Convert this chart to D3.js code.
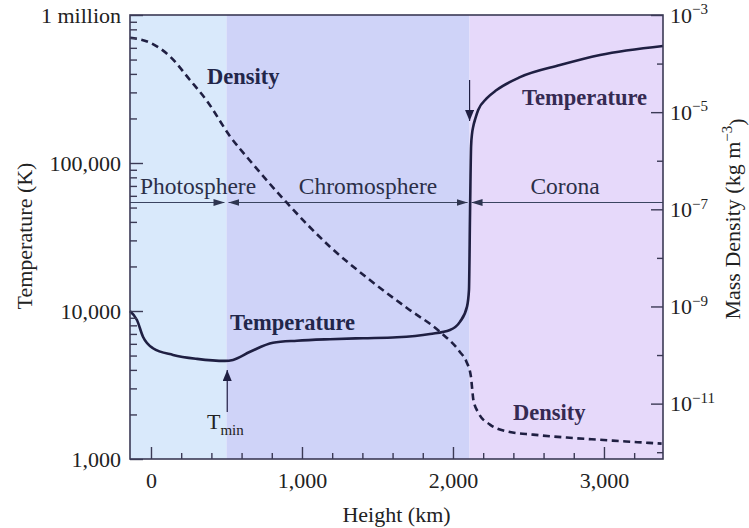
<!DOCTYPE html>
<html>
<head>
<meta charset="utf-8">
<script src="https://cdn.jsdelivr.net/npm/d3@7"></script>
<style>
  body { margin: 0; background: #fff; }
  svg text { font-family: "Liberation Serif", "Times New Roman", serif; }
</style>
</head>
<body>
<svg id="chart" width="749" height="528"></svg>
<script>
// temperature profile (height in km, T in K)
const tempHeight = [-140, -93, -53, 13, 146, 305, 490, 543, 656, 808, 967, 1185, 1404, 1629, 1848, 1980, 2046, 2093, 2106, 2113, 2120, 2127, 2134, 2149, 2167, 2223, 2289, 2444, 2709, 2974, 3391];
const tempValue  = [10000, 8700, 6700, 5600, 5050, 4750, 4600, 4670, 5300, 6100, 6300, 6450, 6550, 6650, 7000, 7450, 8450, 10700, 13900, 46000, 130000, 160000, 176000, 201000, 228000, 273000, 311000, 380000, 459000, 537000, 618000];

// mass density profile (height in km, rho in kg m^-3)
const densHeight = [-139, -7, 126, 258, 371, 523, 656, 901, 1185, 1450, 1693, 1914, 2046, 2090, 2119, 2128, 2135, 2168, 2245, 2377, 2530, 2753, 2974, 3382];
const densValue  = [3.4e-4, 2.7e-4, 1.4e-4, 4.6e-5, 1.7e-5, 3.2e-6, 1.0e-6, 1.35e-7, 1.7e-8, 3.5e-9, 9.4e-10, 3.0e-10, 1.16e-10, 7.2e-11, 3.6e-11, 1.9e-11, 1.2e-11, 6.5e-12, 3.7e-12, 2.6e-12, 2.3e-12, 2.0e-12, 1.8e-12, 1.5e-12];

// atmosphere layers
const layerNames = ["Photosphere", "Chromosphere", "Corona"];
const layerBounds = [500, 2110];

// axis ticks
const heightTicks = [0, 1000, 2000, 3000];
const tempTicks = [1000, 10000, 100000, 1000000];
const tempTickLabels = ["1,000", "10,000", "100,000", "1 million"];
const densTicks = [1e-3, 1e-5, 1e-7, 1e-9, 1e-11];
const densTickExp = ["−3", "−5", "−7", "−9", "−11"];

const pLeft = 130, pRight = 663, pTop = 15, pBottom = 459;
const ink = "#1f1f42";

const svg = d3.select("#chart");

const x = d3.scaleLinear().domain([-139, 3391]).range([pLeft, pRight]);
const yT = d3.scaleLog().domain([1000, 1e6]).range([pBottom, pTop]);
const yD = d3.scaleLog().domain([Math.pow(10, -12.14), 1e-3]).range([pBottom, pTop]);

// background layers
const layerEdges = [x.domain()[0], ...layerBounds, x.domain()[1]];
const layerColors = ["#d9e9fb", "#cfd3f8", "#e6d9fa"];
svg.append("g").selectAll("rect")
    .data(layerNames)
    .join("rect")
    .attr("x", (d, i) => x(layerEdges[i]))
    .attr("y", pTop)
    .attr("width", (d, i) => x(layerEdges[i + 1]) - x(layerEdges[i]))
    .attr("height", pBottom - pTop)
    .attr("fill", (d, i) => layerColors[i]);

// arrow markers
const defs = svg.append("defs");
function marker(id, color, len, half) {
    defs.append("marker")
        .attr("id", id)
        .attr("viewBox", `0 ${-half} ${len} ${2 * half}`)
        .attr("refX", len).attr("refY", 0)
        .attr("markerWidth", len).attr("markerHeight", 2 * half)
        .attr("markerUnits", "userSpaceOnUse")
        .attr("orient", "auto-start-reverse")
        .append("path")
        .attr("d", `M0,${-half}L${len},0L0,${half}Z`)
        .attr("fill", color);
}
marker("arr", "#2e3550", 11, 3.5);
marker("arrDark", "#1f1f42", 11, 4.5);

// layer spans with arrows
const spanY = 202.5;
const spanG = svg.append("g");
layerNames.forEach((name, i) => {
    const x0 = x(layerEdges[i]), x1 = x(layerEdges[i + 1]);
    const first = i === 0, last = i === layerNames.length - 1;
    spanG.append("line")
        .attr("x1", first ? x0 : x0 + 2)
        .attr("x2", last ? x1 : x1 - 2)
        .attr("y1", spanY).attr("y2", spanY)
        .attr("stroke", "#3a4460").attr("stroke-width", 1.2)
        .attr("marker-start", first ? null : "url(#arr)")
        .attr("marker-end", last ? null : "url(#arr)");
});
const labelX = [198, 368, 565];
spanG.selectAll("text")
    .data(layerNames)
    .join("text")
    .attr("x", (d, i) => labelX[i])
    .attr("y", 194)
    .attr("text-anchor", "middle")
    .attr("font-size", 23.5)
    .attr("fill", "#2b2f48")
    .text(d => d);

// curves
const lineT = d3.line()
    .x((d, i) => x(tempHeight[i]))
    .y(d => yT(d))
    .curve(d3.curveMonotoneX);
const lineD = d3.line()
    .x((d, i) => x(densHeight[i]))
    .y(d => yD(d))
    .curve(d3.curveMonotoneX);

svg.append("path")
    .attr("d", lineD(densValue))
    .attr("fill", "none")
    .attr("stroke", ink)
    .attr("stroke-width", 2.6)
    .attr("stroke-dasharray", "7,4.5");

svg.append("path")
    .attr("d", lineT(tempValue))
    .attr("fill", "none")
    .attr("stroke", ink)
    .attr("stroke-width", 2.6);

// bottom axis
const xMinor = d3.range(0, 3400, 200).filter(v => v % 1000 !== 0);
svg.append("g")
    .attr("transform", `translate(0,${pBottom})`)
    .call(d3.axisBottom(x).tickValues(xMinor).tickSize(-6).tickFormat(""))
    .call(g => g.select(".domain").remove())
    .call(g => g.selectAll(".tick line").attr("stroke", "#3b3a55").attr("stroke-width", 1.4));
svg.append("g")
    .attr("transform", `translate(0,${pBottom})`)
    .call(d3.axisBottom(x).tickValues(heightTicks).tickSize(-12).tickPadding(13)
        .tickFormat(d3.format(",")))
    .call(g => g.select(".domain").remove())
    .call(g => g.selectAll(".tick line").attr("stroke", "#3b3a55").attr("stroke-width", 1.4))
    .call(g => g.selectAll(".tick text")
        .attr("font-size", 22).attr("fill", "#222")
        .attr("font-family", "Liberation Serif"));

// left axis
const yMinor = [];
[1000, 10000, 100000].forEach(b => { for (let k = 2; k <= 9; k++) yMinor.push(b * k); });
svg.append("g")
    .attr("transform", `translate(${pLeft},0)`)
    .call(d3.axisLeft(yT).tickValues(yMinor).tickSize(-7).tickFormat(""))
    .call(g => g.select(".domain").remove())
    .call(g => g.selectAll(".tick line").attr("stroke", "#3b3a55").attr("stroke-width", 1.4));
svg.append("g")
    .attr("transform", `translate(${pLeft},0)`)
    .call(d3.axisLeft(yT).tickValues(tempTicks).tickSize(-13).tickPadding(9)
        .tickFormat((d, i) => tempTickLabels[i]))
    .call(g => g.select(".domain").remove())
    .call(g => g.selectAll(".tick line").attr("stroke", "#3b3a55").attr("stroke-width", 1.4))
    .call(g => g.selectAll(".tick text")
        .attr("font-size", 22).attr("fill", "#222")
        .attr("font-family", "Liberation Serif"));

// right axis
const dMinor = [1e-4, 1e-6, 1e-8, 1e-10, 1e-12];
svg.append("g")
    .attr("transform", `translate(${pRight},0)`)
    .call(d3.axisRight(yD).tickValues(dMinor).tickSize(-6).tickFormat(""))
    .call(g => g.select(".domain").remove())
    .call(g => g.selectAll(".tick line").attr("stroke", "#3b3a55").attr("stroke-width", 1.4));
const rightAxis = svg.append("g")
    .attr("transform", `translate(${pRight},0)`)
    .call(d3.axisRight(yD).tickValues(densTicks).tickSize(-12).tickFormat(""))
    .call(g => g.select(".domain").remove())
    .call(g => g.selectAll(".tick line").attr("stroke", "#3b3a55").attr("stroke-width", 1.4));
rightAxis.selectAll(".tick").each(function(d, i) {
    const t = d3.select(this).append("text")
        .attr("x", 7).attr("dy", "0.32em")
        .attr("fill", "#222").attr("font-size", 22)
        .attr("text-anchor", "start");
    t.append("tspan").text("10");
    t.append("tspan").attr("dy", "-0.55em").attr("font-size", 15).text(densTickExp[i]);
});

// frame
svg.append("rect")
    .attr("x", pLeft).attr("y", pTop)
    .attr("width", pRight - pLeft).attr("height", pBottom - pTop)
    .attr("fill", "none").attr("stroke", "#3b3a55").attr("stroke-width", 1.6);

// axis titles
svg.append("text")
    .attr("x", (pLeft + pRight) / 2).attr("y", 522)
    .attr("text-anchor", "middle").attr("font-size", 22).attr("fill", "#222")
    .text("Height (km)");
svg.append("text")
    .attr("transform", "translate(32,236) rotate(-90)")
    .attr("text-anchor", "middle").attr("font-size", 22).attr("fill", "#222")
    .text("Temperature (K)");
const md = svg.append("text")
    .attr("transform", "translate(740,219) rotate(-90)")
    .attr("text-anchor", "middle").attr("font-size", 22).attr("fill", "#222");
md.append("tspan").text("Mass Density (kg m");
md.append("tspan").attr("dy", "-0.55em").attr("font-size", 15).text("−3");
md.append("tspan").attr("dy", "0.55em").text(")");

// curve labels
const curveLabels = [
    {text: "Density", x: 207, y: 84, color: "#22264a"},
    {text: "Temperature", x: 230, y: 330, color: "#22264a"},
    {text: "Temperature", x: 522, y: 105, color: "#352a52"},
    {text: "Density", x: 513, y: 420, color: "#352a52"}
];
svg.append("g").selectAll("text")
    .data(curveLabels)
    .join("text")
    .attr("x", d => d.x).attr("y", d => d.y)
    .attr("font-size", 22.5).attr("font-weight", "bold")
    .attr("fill", d => d.color)
    .text(d => d.text);

// T_min marker and transition region marker
svg.append("line")
    .attr("x1", x(505)).attr("x2", x(505))
    .attr("y1", 412).attr("y2", 370)
    .attr("stroke", ink).attr("stroke-width", 1.2)
    .attr("marker-end", "url(#arrDark)");
const tmin = svg.append("text")
    .attr("x", 207).attr("y", 429)
    .attr("font-size", 22).attr("fill", "#222");
tmin.append("tspan").text("T");
tmin.append("tspan").attr("dy", 6).attr("font-size", 15).text("min");

svg.append("line")
    .attr("x1", x(2110)).attr("x2", x(2110))
    .attr("y1", 80).attr("y2", 121)
    .attr("stroke", ink).attr("stroke-width", 1.2)
    .attr("marker-end", "url(#arrDark)");
</script>
</body>
</html>
